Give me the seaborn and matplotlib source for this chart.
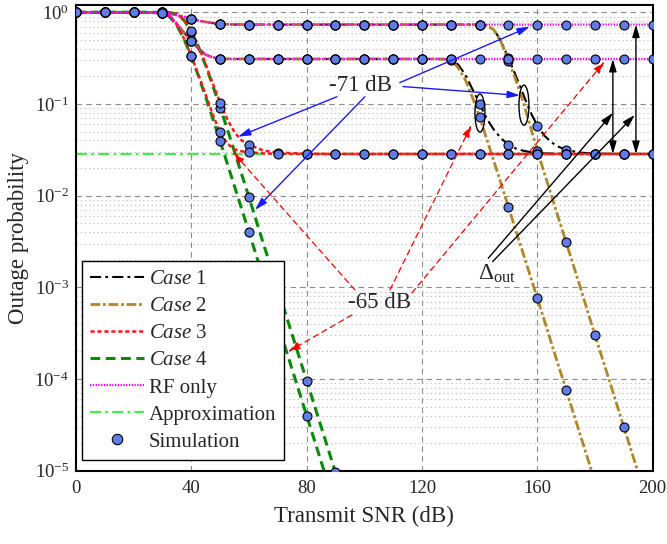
import matplotlib
matplotlib.use("Agg")
import matplotlib.pyplot as plt
from matplotlib.lines import Line2D
from matplotlib.patches import Ellipse
from matplotlib.ticker import LogLocator, NullFormatter
import numpy as np
import pandas as pd
import seaborn as sns

# transmit SNR grid (dB)
snr_db = [0, 10, 20, 25, 30, 32.5, 35, 37.5,
          40, 42.5, 45, 47.5, 50, 52.5, 55, 57.5,
          60, 65, 70, 80, 90, 100, 110, 120,
          125, 130, 132.5, 135, 137.5, 140, 142.5, 145,
          147.5, 150, 152.5, 155, 157.5, 160, 162.5, 165,
          167.5, 170, 175, 180, 185, 190, 195, 200]

rf_71 = [1.0, 1.0, 1.0, 1.0, 0.998, 0.97, 0.93, 0.89,
         0.85, 0.81, 0.785, 0.762, 0.748, 0.741, 0.737, 0.736,
         0.735, 0.735, 0.735, 0.735, 0.735, 0.735, 0.735, 0.735,
         0.735, 0.735, 0.735, 0.735, 0.735, 0.735, 0.735, 0.735,
         0.735, 0.735, 0.735, 0.735, 0.735, 0.735, 0.735, 0.735,
         0.735, 0.735, 0.735, 0.735, 0.735, 0.735, 0.735, 0.735]

rf_65 = [1.0, 1.0, 1.0, 1.0, 0.985, 0.91, 0.75, 0.6,
         0.49, 0.4, 0.345, 0.322, 0.313, 0.311, 0.31, 0.31,
         0.31, 0.31, 0.31, 0.31, 0.31, 0.31, 0.31, 0.31,
         0.31, 0.31, 0.31, 0.31, 0.31, 0.31, 0.31, 0.31,
         0.31, 0.31, 0.31, 0.31, 0.31, 0.31, 0.31, 0.31,
         0.31, 0.31, 0.31, 0.31, 0.31, 0.31, 0.31, 0.31]

case1_71 = [1.0, 1.0, 1.0, 1.0, 0.998, 0.97, 0.93, 0.89,
            0.85, 0.81, 0.785, 0.762, 0.748, 0.741, 0.737, 0.736,
            0.735, 0.735, 0.735, 0.735, 0.735, 0.735, 0.735, 0.735,
            0.735, 0.735, 0.735, 0.735, 0.735, 0.735, 0.72, 0.645,
            0.48, 0.315, 0.205, 0.13, 0.083, 0.058, 0.045, 0.038,
            0.034, 0.0316, 0.0295, 0.0288, 0.0286, 0.0285, 0.0285, 0.0285]

case2_71 = [1.0, 1.0, 1.0, 1.0, 0.998, 0.97, 0.93, 0.89,
            0.85, 0.81, 0.785, 0.762, 0.748, 0.741, 0.737, 0.736,
            0.735, 0.735, 0.735, 0.735, 0.735, 0.735, 0.735, 0.735,
            0.735, 0.735, 0.735, 0.735, 0.735, 0.735, 0.72, 0.64,
            0.47, 0.295, 0.185, 0.108, 0.058, 0.031, 0.0174, 0.0098,
            0.0055, 0.0031, 9.8e-4, 3.0e-4, 9.6e-5, 3.0e-5, 9.5e-6, 3.0e-6]

case1_65 = [1.0, 1.0, 1.0, 1.0, 0.985, 0.91, 0.75, 0.6,
            0.49, 0.4, 0.345, 0.322, 0.313, 0.311, 0.31, 0.31,
            0.31, 0.31, 0.31, 0.31, 0.31, 0.31, 0.31, 0.31,
            0.31, 0.31, 0.27, 0.21, 0.145, 0.10, 0.069, 0.052,
            0.042, 0.036, 0.0327, 0.031, 0.0299, 0.0293, 0.0289, 0.0288,
            0.0287, 0.0286, 0.0285, 0.0285, 0.0285, 0.0285, 0.0285, 0.0285]

case2_65 = [1.0, 1.0, 1.0, 1.0, 0.985, 0.91, 0.75, 0.6,
            0.49, 0.4, 0.345, 0.322, 0.313, 0.311, 0.31, 0.31,
            0.31, 0.31, 0.31, 0.31, 0.31, 0.31, 0.31, 0.31,
            0.31, 0.305, 0.25, 0.185, 0.118, 0.072, 0.041, 0.0235,
            0.0133, 0.0075, 0.0042, 0.0024, 0.00135, 7.6e-4, 4.3e-4, 2.4e-4,
            1.35e-4, 7.6e-5, 2.4e-5, 7.6e-6, 2.4e-6, 7.6e-7, 2.4e-7, 7.6e-8]

case3_71 = [1.0, 1.0, 1.0, 1.0, 1.0, 0.996, 0.955, 0.825,
            0.625, 0.425, 0.27, 0.166, 0.103, 0.068, 0.049, 0.040,
            0.036, 0.031, 0.0295, 0.0287, 0.0285, 0.0285, 0.0285, 0.0285,
            0.0285, 0.0285, 0.0285, 0.0285, 0.0285, 0.0285, 0.0285, 0.0285,
            0.0285, 0.0285, 0.0285, 0.0285, 0.0285, 0.0285, 0.0285, 0.0285,
            0.0285, 0.0285, 0.0285, 0.0285, 0.0285, 0.0285, 0.0285, 0.0285]

case3_65 = [1.0, 1.0, 1.0, 1.0, 0.985, 0.90, 0.725, 0.515,
            0.337, 0.207, 0.126, 0.076, 0.049, 0.037, 0.032, 0.0305,
            0.0298, 0.0289, 0.0286, 0.0285, 0.0285, 0.0285, 0.0285, 0.0285,
            0.0285, 0.0285, 0.0285, 0.0285, 0.0285, 0.0285, 0.0285, 0.0285,
            0.0285, 0.0285, 0.0285, 0.0285, 0.0285, 0.0285, 0.0285, 0.0285,
            0.0285, 0.0285, 0.0285, 0.0285, 0.0285, 0.0285, 0.0285, 0.0285]

# case 4 falls below 1e-5 after 90 dB
snr_case4 = [0, 10, 20, 25, 30, 32.5, 35, 37.5,
             40, 42.5, 45, 47.5, 50, 52.5, 55, 57.5,
             60, 65, 70, 80, 90]
case4_71 = [1.0, 1.0, 1.0, 1.0, 1.0, 0.995, 0.952, 0.819,
            0.617, 0.417, 0.262, 0.157, 0.0915, 0.053, 0.030, 0.017,
            0.0096, 0.003, 9.6e-4, 9.6e-5, 9.6e-6]
case4_65 = [1.0, 1.0, 1.0, 1.0, 0.982, 0.895, 0.718, 0.509,
            0.33, 0.2015, 0.119, 0.0686, 0.0392, 0.0223, 0.0126, 0.0071,
            0.004, 0.00126, 4.0e-4, 4.0e-5, 4.0e-6]

approx_snr = [0, 200]
approx_prob = [0.0285, 0.0285]

curves = [
    ("case1", snr_db, case1_71), ("case1", snr_db, case1_65),
    ("case2", snr_db, case2_71), ("case2", snr_db, case2_65),
    ("case4", snr_case4, case4_71), ("case4", snr_case4, case4_65),
    ("case3", snr_db, case3_71), ("case3", snr_db, case3_65),
    ("rf", snr_db, rf_71), ("rf", snr_db, rf_65),
]

rows = []
for i, (kind, xs, ys) in enumerate(curves):
    for x, y in zip(xs, ys):
        rows.append({"curve": i, "kind": kind, "snr": x, "prob": y})
df = pd.DataFrame(rows)
sim = df[(df["snr"] % 10 == 0)]

styles = {
    "case1": dict(color="black", linestyle=(0, (8, 3, 2, 3)), linewidth=1.5, zorder=2.1),
    "case2": dict(color="#B0862A", linestyle=(0, (7, 2, 2, 2)), linewidth=2.0, zorder=2.2),
    "case4": dict(color="#0A8A0A", linestyle=(0, (7, 4)), linewidth=2.2, zorder=2.3),
    "case3": dict(color="#FF1A1A", linestyle=(0, (3, 2)), linewidth=1.8, zorder=2.4),
    "rf": dict(color="#FF00FF", linestyle=(0, (1, 1)), linewidth=1.6, zorder=2.5),
    "approx": dict(color="#44EE44", linestyle=(0, (8, 3, 2, 3)), linewidth=1.6, zorder=2.0),
}

sns.set_style("white")
plt.rcParams["font.family"] = ["Liberation Serif", "DejaVu Serif"]
plt.rcParams["mathtext.fontset"] = "custom"
plt.rcParams["mathtext.rm"] = "Liberation Serif"
plt.rcParams["mathtext.it"] = "Liberation Serif:italic"
plt.rcParams["mathtext.bf"] = "Liberation Serif:bold"
plt.rcParams["lines.scale_dashes"] = False

fig = plt.figure(figsize=(6.67, 5.44), dpi=100)
ax = fig.add_axes([0.1139, 0.1347, 0.8646, 0.856])

sns.lineplot(x=approx_snr, y=approx_prob, ax=ax, legend=False, **styles["approx"])
for i, (kind, xs, ys) in enumerate(curves):
    sub = df[df["curve"] == i]
    sns.lineplot(data=sub, x="snr", y="prob", ax=ax, legend=False, **styles[kind])

sns.scatterplot(data=sim, x="snr", y="prob", ax=ax, marker="o", s=42,
                color="#5F7BE6", edgecolor="black", linewidth=0.8, zorder=4, legend=False)

ax.set_yscale("log")
ax.set_xlim(0, 200)
ax.set_ylim(1e-5, 1.2)
ax.set_xticks([0, 40, 80, 120, 160, 200])
ax.yaxis.set_major_locator(LogLocator(base=10, numticks=12))
ax.yaxis.set_minor_locator(LogLocator(base=10, subs=np.arange(2, 10), numticks=12))
ax.yaxis.set_minor_formatter(NullFormatter())

ax.set_axisbelow(True)
ax.grid(which="major", axis="both", color="#8c8c8c", linestyle=(0, (4, 3)), linewidth=0.8)
ax.grid(which="minor", axis="y", color="#c4c4c4", linestyle=(0, (1, 2)), linewidth=0.8)

ax.tick_params(which="major", direction="in", length=7, width=1.5, labelsize=13.5,
               top=False, right=False, pad=7)
ax.tick_params(axis="y", which="major", pad=5)
ax.tick_params(which="minor", length=0)
for sp in ax.spines.values():
    sp.set_linewidth(1.5)
    sp.set_color("black")

ax.set_xlabel("Transmit SNR (dB)", fontsize=16.5, labelpad=6)
ax.set_ylabel("Outage probability", fontsize=16.5)
ax.yaxis.set_label_coords(-0.082, 0.5)


def arrow(start, end, color, ls="-", style="-|>", lw=1.0):
    ax.annotate("", xy=end, xytext=start,
                arrowprops=dict(arrowstyle=style + ",head_length=0.75,head_width=0.22",
                                color=color, lw=lw, linestyle=ls,
                                shrinkA=0, shrinkB=0), zorder=6)


# -71 dB labels
ax.text(98.8, 0.158, "-71 dB", fontsize=16.5, ha="center", va="center", zorder=6)
arrow((90.5, 0.120), (56.2, 0.044), "#1a1aff")
arrow((100.2, 0.120), (62.1, 0.0070), "#1a1aff")
arrow((112.3, 0.171), (157.4, 0.698), "#1a1aff")
arrow((113.4, 0.155), (154.0, 0.124), "#1a1aff")

# -65 dB labels
ax.text(105.4, 6.8e-4, "-65 dB", fontsize=16.5, ha="center", va="center", zorder=6)
arrow((96.7, 9.4e-4), (54.4, 0.030), "red", ls=(0, (4, 3)), lw=0.9)
arrow((108.9, 9.4e-4), (137.2, 0.0594), "red", ls=(0, (4, 3)), lw=0.9)
arrow((116.5, 8.7e-4), (183.4, 0.292), "red", ls=(0, (4, 3)), lw=0.9)
arrow((95.7, 5.0e-4), (73.5, 1.98e-4), "red", ls=(0, (4, 3)), lw=0.9)

# Delta_out labels
ax.text(139.4, 1.39e-3, r"$\Delta_{\mathrm{out}}$", fontsize=17, ha="left", va="center", zorder=6)
arrow((143.0, 2.08e-3), (186.2, 0.080), "black")
arrow((144.5, 1.91e-3), (193.8, 0.076), "black")
arrow((186.2, 0.31), (186.2, 0.0285), "black", style="<|-|>")
arrow((194.2, 0.735), (194.2, 0.0285), "black", style="<|-|>")

for cx, cy, h in [(0.7005, 0.768, 0.0816), (0.7768, 0.785, 0.086)]:
    ax.add_patch(Ellipse((cx, cy), 0.0173, h, transform=ax.transAxes, fill=False,
                         edgecolor="black", linewidth=1.0, zorder=6))

handles = [
    Line2D([], [], **{k: v for k, v in styles["case1"].items() if k != "zorder"}),
    Line2D([], [], **{k: v for k, v in styles["case2"].items() if k != "zorder"}),
    Line2D([], [], **{k: v for k, v in styles["case3"].items() if k != "zorder"}),
    Line2D([], [], **{k: v for k, v in styles["case4"].items() if k != "zorder"}),
    Line2D([], [], **{k: v for k, v in styles["rf"].items() if k != "zorder"}),
    Line2D([], [], **{k: v for k, v in styles["approx"].items() if k != "zorder"}),
    Line2D([], [], linestyle="none", marker="o", markersize=7.5,
           markerfacecolor="#5F7BE6", markeredgecolor="black", markeredgewidth=0.8),
]
labels = [r"$\mathit{Case}$ 1", r"$\mathit{Case}$ 2", r"$\mathit{Case}$ 3",
          r"$\mathit{Case}$ 4", "RF only", "Approximation", "Simulation"]
leg = ax.legend(handles, labels, loc="lower left", bbox_to_anchor=(0.0104, 0.023),
                borderaxespad=0, fontsize=15, frameon=True, fancybox=False,
                edgecolor="black", framealpha=1, handlelength=2.6, handletextpad=0.2,
                labelspacing=0.36, borderpad=0.4)
leg.get_frame().set_linewidth(1.0)
leg.set_zorder(10)

fig.savefig("out.png", dpi=100)
